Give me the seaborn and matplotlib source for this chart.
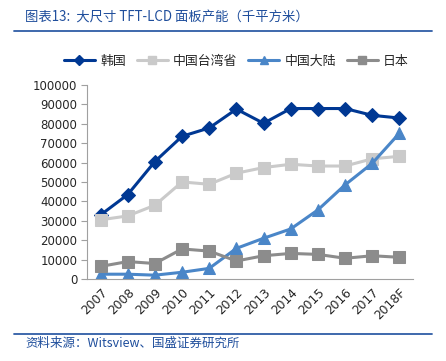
import pandas as pd
import matplotlib.pyplot as plt
import matplotlib.lines as mlines
import seaborn as sns

# Large-size TFT-LCD panel capacity (thousand m2)
years = ["2007", "2008", "2009", "2010", "2011", "2012", "2013", "2014", "2015", "2016", "2017", "2018F"]
korea = [33000, 43500, 60500, 73500, 77800, 87500, 80200, 87800, 87800, 87800, 84300, 82900]
taiwan = [30500, 32500, 38000, 50000, 48800, 54500, 57400, 59100, 58200, 58200, 61900, 63200]
mainland = [2500, 2500, 2000, 3500, 5500, 15800, 21000, 25800, 35600, 48500, 59600, 75100]
japan = [6500, 9000, 8000, 15500, 14400, 9300, 12000, 13200, 12700, 10700, 12000, 11200]

series_names = ["韩国", "中国台湾省", "中国大陆", "日本"]
series_values = [korea, taiwan, mainland, japan]
colors = ["#003893", "#CACACA", "#4A86C8", "#8C8C8C"]
markers = ["D", "s", "^", "s"]
msizes = [7, 8.5, 8.5, 8]

rows = []
for name, vals in zip(series_names, series_values):
    for i, v in enumerate(vals):
        rows.append({"x": i, "value": v, "series": name})
df = pd.DataFrame(rows)

sns.set_style("white")
plt.rcParams["font.family"] = ["DejaVu Sans", "Noto Sans CJK SC"]
cjk = ["Noto Sans CJK SC", "DejaVu Sans"]

fig = plt.figure(figsize=(4.46, 3.61), dpi=100)
ax = fig.add_axes([0.195, 0.227, 0.731, 0.538])

for name, c, m, ms in zip(series_names, colors, markers, msizes):
    sub = df[df["series"] == name]
    sns.lineplot(data=sub, x="x", y="value", ax=ax, color=c, marker=m,
                 markersize=ms, markeredgecolor=c, linewidth=2.2, legend=False)

ax.set_xlim(-0.5, 11.5)
ax.set_ylim(0, 100000)
ax.set_yticks(range(0, 100001, 10000))
ax.set_yticklabels([str(v) for v in range(0, 100001, 10000)], fontsize=8.5)
ax.set_xticks(range(len(years)))
ax.set_xticklabels(years, rotation=45, ha="right", rotation_mode="anchor", fontsize=8.8)
ax.set_xticks([i - 0.5 for i in range(len(years) + 1)], minor=True)
ax.tick_params(axis="x", which="major", length=0, pad=5)
ax.tick_params(axis="x", which="minor", length=4, color="#A0A0A0", width=0.8)
ax.tick_params(axis="y", length=4, color="#A0A0A0", width=0.8, left=True, pad=3)
ax.set_xlabel("")
ax.set_ylabel("")
for side in ["top", "right"]:
    ax.spines[side].set_visible(False)
for side in ["left", "bottom"]:
    ax.spines[side].set_color("#A0A0A0")
    ax.spines[side].set_linewidth(0.8)

handles = [mlines.Line2D([], [], color=c, marker=m, markersize=ms * 0.7, linewidth=2.2, markeredgecolor=c)
           for c, m, ms in zip(colors, markers, msizes)]
fig.legend(handles, series_names, loc="center", bbox_to_anchor=(0.53, 0.83), ncol=4, frameon=False,
           prop={"family": cjk, "size": 9.3}, handlelength=2.4, columnspacing=0.85, handletextpad=0.4)

# header / footer
fig.text(0.056, 0.955, "图表13:  大尺寸 TFT-LCD 面板产能（千平方米）", fontsize=9.6, color="#1F4E9C",
         style="italic", family=cjk, va="center")
fig.text(0.056, 0.05, "资料来源：Witsview、国盛证券研究所", fontsize=9, color="#1F4E9C",
         style="italic", family=cjk, va="center")
fig.add_artist(mlines.Line2D([0.031, 0.969], [0.914, 0.914], color="#2F5DA6", linewidth=1.3))
fig.add_artist(mlines.Line2D([0.031, 0.969], [0.075, 0.075], color="#2F5DA6", linewidth=1.3))

plt.savefig("out.png", dpi=100)
